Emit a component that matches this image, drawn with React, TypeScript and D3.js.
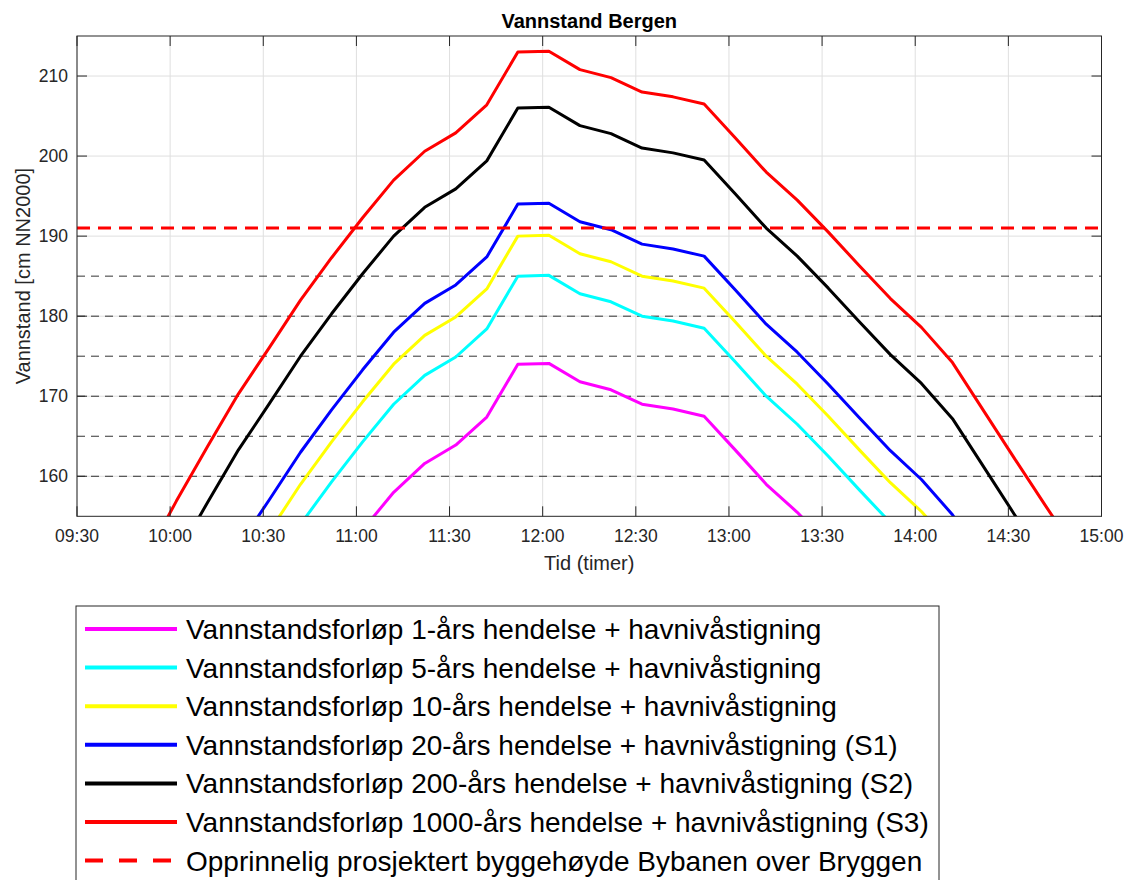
import React, { useEffect, useRef } from 'react';
import * as d3 from 'd3';

// time stamps of the samples (10 min step)
const times = [
  '09:52', '10:02', '10:12', '10:22', '10:32', '10:42', '10:52', '11:02',
  '11:12', '11:22', '11:32', '11:42', '11:52', '12:02', '12:12', '12:22',
  '12:32', '12:42', '12:52', '13:02', '13:12', '13:22', '13:32', '13:42',
  '13:52', '14:02', '14:12', '14:22', '14:32', '14:42', '14:52',
];

// water level [cm NN2000] per event
const level1 = [
  110.7, 117.9, 124.7, 131.3, 137.1, 143.0, 148.3, 153.3, 158.0, 161.6, 163.9,
  167.4, 174.0, 174.1, 171.8, 170.8, 169.0, 168.4, 167.5, 163.3, 159.0, 155.5,
  151.5, 147.3, 143.2, 139.6, 135.2, 129.2, 123.2, 117.3, 111.5,
];
const level5 = [
  121.7, 128.9, 135.7, 142.3, 148.1, 154.0, 159.3, 164.3, 169.0, 172.6, 174.9,
  178.4, 185.0, 185.1, 182.8, 181.8, 180.0, 179.4, 178.5, 174.3, 170.0, 166.5,
  162.5, 158.3, 154.2, 150.6, 146.2, 140.2, 134.2, 128.3, 122.5,
];
const level10 = [
  126.7, 133.9, 140.7, 147.3, 153.1, 159.0, 164.3, 169.3, 174.0, 177.6, 179.9,
  183.4, 190.0, 190.1, 187.8, 186.8, 185.0, 184.4, 183.5, 179.3, 175.0, 171.5,
  167.5, 163.3, 159.2, 155.6, 151.2, 145.2, 139.2, 133.3, 127.5,
];
const level20 = [
  130.7, 137.9, 144.7, 151.3, 157.1, 163.0, 168.3, 173.3, 178.0, 181.6, 183.9,
  187.4, 194.0, 194.1, 191.8, 190.8, 189.0, 188.4, 187.5, 183.3, 179.0, 175.5,
  171.5, 167.3, 163.2, 159.6, 155.2, 149.2, 143.2, 137.3, 131.5,
];
const level200 = [
  142.7, 149.9, 156.7, 163.3, 169.1, 175.0, 180.3, 185.3, 190.0, 193.6, 195.9,
  199.4, 206.0, 206.1, 203.8, 202.8, 201.0, 200.4, 199.5, 195.3, 191.0, 187.5,
  183.5, 179.3, 175.2, 171.6, 167.2, 161.2, 155.2, 149.3, 143.5,
];
const level1000 = [
  149.7, 156.9, 163.7, 170.3, 176.1, 182.0, 187.3, 192.3, 197.0, 200.6, 202.9,
  206.4, 213.0, 213.1, 210.8, 209.8, 208.0, 207.4, 206.5, 202.3, 198.0, 194.5,
  190.5, 186.3, 182.2, 178.6, 174.2, 168.2, 162.2, 156.3, 150.5,
];

const seriesNames = [
  'Vannstandsforløp 1-års hendelse + havnivåstigning',
  'Vannstandsforløp 5-års hendelse + havnivåstigning',
  'Vannstandsforløp 10-års hendelse + havnivåstigning',
  'Vannstandsforløp 20-års hendelse + havnivåstigning (S1)',
  'Vannstandsforløp 200-års hendelse + havnivåstigning (S2)',
  'Vannstandsforløp 1000-års hendelse + havnivåstigning (S3)',
];
const seriesColors = ['#ff00ff', '#00ffff', '#ffff00', '#0000ff', '#000000', '#ff0000'];
const seriesValues = [level1, level5, level10, level20, level200, level1000];

const refLevel = 191;
const refName = 'Opprinnelig prosjektert byggehøyde Bybanen over Bryggen';
const helpLevels = [160, 165, 170, 175, 180, 185];

const xTicks = [
  '09:30', '10:00', '10:30', '11:00', '11:30', '12:00',
  '12:30', '13:00', '13:30', '14:00', '14:30', '15:00',
];
const yTicks = [160, 170, 180, 190, 200, 210];

const toHours = (t: string) => {
  const [h, m] = t.split(':').map(Number);
  return h + m / 60;
};

const W = 1131;
const H = 880;
const FONT = '"Liberation Sans", Arial, Helvetica, sans-serif';
const AX = '#262626';

export default function App() {
  const ref = useRef<SVGSVGElement>(null);

  useEffect(() => {
    document.body.style.margin = '0';
    const svg = d3.select(ref.current);
    svg.selectAll('*').remove();

    const left = 77, right = 1101.5, top = 36, bottom = 516.3;
    const x = d3.scaleLinear().domain([9.5, 15]).range([left, right]);
    const y = d3.scaleLinear().domain([155, 215]).range([bottom, top]);

    svg.append('rect').attr('width', W).attr('height', H).attr('fill', '#fff');

    svg.append('defs').append('clipPath').attr('id', 'plot')
      .append('rect').attr('x', left).attr('y', top)
      .attr('width', right - left).attr('height', bottom - top);

    // grid
    const grid = svg.append('g').attr('stroke', '#dfdfdf').attr('stroke-width', 1);
    xTicks.forEach((t) => {
      grid.append('line').attr('x1', x(toHours(t))).attr('x2', x(toHours(t)))
        .attr('y1', top).attr('y2', bottom);
    });
    yTicks.forEach((v) => {
      grid.append('line').attr('x1', left).attr('x2', right)
        .attr('y1', y(v)).attr('y2', y(v));
    });

    const plot = svg.append('g').attr('clip-path', 'url(#plot)');

    // thin black dashed help lines
    plot.selectAll('line.help').data(helpLevels).enter().append('line')
      .attr('class', 'help')
      .attr('x1', left).attr('x2', right)
      .attr('y1', (d) => y(d)).attr('y2', (d) => y(d))
      .attr('stroke', '#000').attr('stroke-opacity', 0.8)
      .attr('stroke-width', 1).attr('stroke-dasharray', '8,6');

    const line = d3.line<number>()
      .x((d, i) => x(toHours(times[i])))
      .y((d) => y(d));

    seriesValues.forEach((vals, i) => {
      plot.append('path').datum(vals)
        .attr('d', line)
        .attr('fill', 'none')
        .attr('stroke', seriesColors[i])
        .attr('stroke-width', 3)
        .attr('stroke-linejoin', 'round');
    });

    plot.append('line')
      .attr('x1', left).attr('x2', right)
      .attr('y1', y(refLevel)).attr('y2', y(refLevel))
      .attr('stroke', '#ff0000').attr('stroke-width', 3)
      .attr('stroke-dasharray', '13,8');

    // box + ticks
    const axes = svg.append('g').attr('stroke', AX).attr('stroke-width', 1);
    axes.append('rect').attr('x', left).attr('y', top)
      .attr('width', right - left).attr('height', bottom - top).attr('fill', 'none');
    const tl = 10;
    xTicks.forEach((t) => {
      const px = x(toHours(t));
      axes.append('line').attr('x1', px).attr('x2', px).attr('y1', bottom).attr('y2', bottom - tl);
      axes.append('line').attr('x1', px).attr('x2', px).attr('y1', top).attr('y2', top + tl);
    });
    yTicks.forEach((v) => {
      axes.append('line').attr('x1', left).attr('x2', left + tl).attr('y1', y(v)).attr('y2', y(v));
      axes.append('line').attr('x1', right).attr('x2', right - tl).attr('y1', y(v)).attr('y2', y(v));
    });

    const txt = svg.append('g').attr('font-family', FONT).attr('fill', AX);
    xTicks.forEach((t) => {
      txt.append('text').attr('x', x(toHours(t))).attr('y', bottom + 26)
        .attr('text-anchor', 'middle').attr('font-size', 17.5).text(t);
    });
    yTicks.forEach((v) => {
      txt.append('text').attr('x', left - 9).attr('y', y(v)).attr('dy', '0.35em')
        .attr('text-anchor', 'end').attr('font-size', 17.5).text(String(v));
    });

    txt.append('text').attr('x', (left + right) / 2).attr('y', 570)
      .attr('text-anchor', 'middle').attr('font-size', 20).text('Tid (timer)');
    txt.append('text')
      .attr('transform', `translate(30,${(top + bottom) / 2}) rotate(-90)`)
      .attr('text-anchor', 'middle').attr('font-size', 20)
      .text('Vannstand [cm NN2000]');
    txt.append('text').attr('x', (left + right) / 2).attr('y', 28)
      .attr('text-anchor', 'middle').attr('font-size', 20)
      .attr('font-weight', 'bold').attr('fill', '#000').text('Vannstand Bergen');

    // legend
    const lg = svg.append('g');
    lg.append('rect').attr('x', 76).attr('y', 606).attr('width', 863).attr('height', 320)
      .attr('fill', '#fff').attr('stroke', AX).attr('stroke-width', 1);
    const entries = seriesNames.map((n, i) => ({ name: n, color: seriesColors[i], dash: '' }));
    entries.push({ name: refName, color: '#ff0000', dash: '18,16' });
    entries.forEach((e, i) => {
      const cy = 629 + i * 38.6;
      lg.append('line').attr('x1', 85).attr('x2', 177).attr('y1', cy).attr('y2', cy)
        .attr('stroke', e.color).attr('stroke-width', 4)
        .attr('stroke-dasharray', e.dash || null);
      lg.append('text').attr('x', 186).attr('y', cy).attr('dy', '0.36em')
        .attr('font-family', FONT).attr('font-size', 28).attr('fill', '#000')
        .text(e.name);
    });
  }, []);

  return <svg ref={ref} width={W} height={H} style={{ display: 'block' }} />;
}
